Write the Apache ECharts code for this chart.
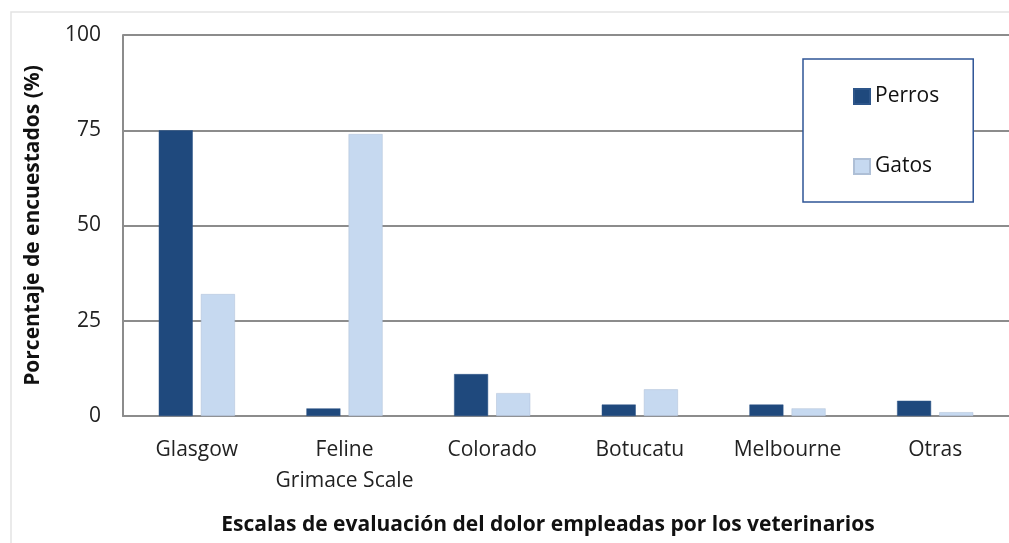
<!DOCTYPE html>
<html>
<head>
<meta charset="utf-8">
<title>Escalas de dolor</title>
<script src="https://cdn.jsdelivr.net/npm/echarts@6/dist/echarts.min.js"></script>
<style>
  html, body { margin: 0; padding: 0; background: #ffffff; }
  #chart { width: 1009px; height: 543px; }
</style>
</head>
<body>
<div id="chart"></div>
<script>
// categorías del eje x
const categories = ['Glasgow', 'Feline\nGrimace Scale', 'Colorado', 'Botucatu', 'Melbourne', 'Otras']
// porcentaje de encuestados
const perros = [75, 2, 11, 3, 3, 4]
const gatos = [32, 74, 6, 7, 2, 1]
const yTicks = [0, 25, 50, 75, 100]

const FONT = '"Open Sans", "Noto Sans", sans-serif'

const chart = echarts.init(document.getElementById('chart'))
chart.setOption({
  animation: false,
  backgroundColor: '#ffffff',
  textStyle: { fontFamily: FONT },
  /* marco exterior claro */
  graphic: [
    {
      type: 'polyline',
      shape: { points: [[11, 543], [11, 12], [1009, 12]] },
      style: { stroke: '#e3e3e3', lineWidth: 1.5, fill: null },
      silent: true
    }
  ],
  title: {
    text: 'Escalas de evaluación del dolor empleadas por los veterinarios',
    left: 543,
    top: 510,
    textAlign: 'center',
    textStyle: { fontFamily: FONT, fontSize: 21, fontWeight: 'bold', color: '#111' }
  },
  legend: {
    orient: 'vertical',
    left: 803,
    top: 59,
    padding: [27, 34, 25, 50],
    itemGap: 49,
    itemWidth: 16,
    itemHeight: 15,
    icon: 'rect',
    borderColor: '#2f5597',
    borderWidth: 1.5,
    backgroundColor: '#ffffff',
    data: ['Perros', 'Gatos'],
    textStyle: { fontFamily: FONT, fontSize: 21, color: '#111' }
  },
  grid: { left: 123, top: 35, right: 0, bottom: 127 },
  xAxis: {
    type: 'category',
    data: categories,
    axisLine: { lineStyle: { color: '#8c8c8c', width: 2 } },
    axisTick: { show: false },
    axisLabel: {
      margin: 19,
      fontFamily: FONT,
      fontSize: 21,
      color: '#222',
      lineHeight: 31,
      interval: 0
    }
  },
  yAxis: {
    type: 'value',
    min: 0,
    max: 100,
    interval: 25,
    name: 'Porcentaje de encuestados (%)',
    nameLocation: 'middle',
    nameGap: 79,
    nameTextStyle: { fontFamily: FONT, fontSize: 21, fontWeight: 'bold', color: '#111' },
    axisLine: { show: true, lineStyle: { color: '#8c8c8c', width: 2 } },
    axisTick: { show: false },
    splitLine: { lineStyle: { color: '#8c8c8c', width: 2 } },
    axisLabel: {
      margin: 22,
      fontFamily: FONT,
      fontSize: 21,
      color: '#222',
      formatter: v => (yTicks.includes(v) ? String(v) : '')
    }
  },
  series: [
    {
      name: 'Perros',
      type: 'bar',
      data: perros,
      barWidth: 34,
      barGap: '24%',
      itemStyle: { color: '#1f497d', borderColor: '#2d5589', borderWidth: 0.5 }
    },
    {
      name: 'Gatos',
      type: 'bar',
      data: gatos,
      barWidth: 34,
      itemStyle: { color: '#c6d9f0', borderColor: '#aebfd6', borderWidth: 0.5 }
    }
  ]
})
</script>
</body>
</html>
